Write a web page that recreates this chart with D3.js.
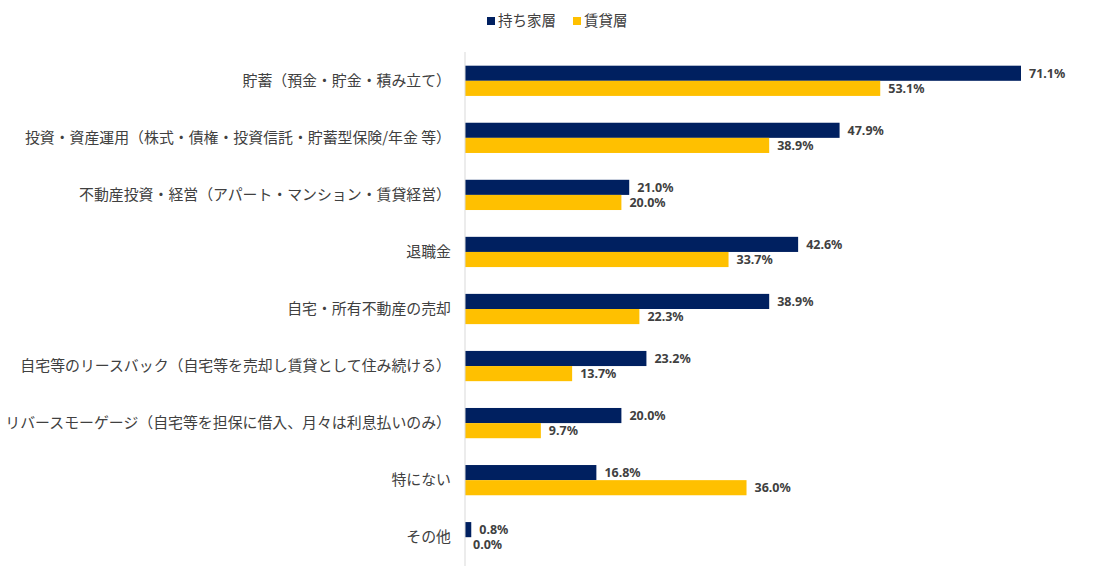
<!DOCTYPE html>
<html>
<head>
<meta charset="utf-8">
<script src="https://cdn.jsdelivr.net/npm/d3@7"></script>
<style>
body { margin: 0; background: #fff; }
text { font-family: "Noto Sans CJK JP", "Noto Sans", sans-serif; }
</style>
</head>
<body>
<svg id="chart"></svg>
<script>
var categories = ["貯蓄（預金・貯金・積み立て）",
    "投資・資産運用（株式・債権・投資信託・貯蓄型保険/年金 等）",
    "不動産投資・経営（アパート・マンション・賃貸経営）",
    "退職金",
    "自宅・所有不動産の売却",
    "自宅等のリースバック（自宅等を売却し賃貸として住み続ける）",
    "リバースモーゲージ（自宅等を担保に借入、月々は利息払いのみ）",
    "特にない",
    "その他"]
var seriesNames = ["持ち家層", "賃貸層"]
var owners = [71.1, 47.9, 21.0, 42.6, 38.9, 23.2, 20.0, 16.8, 0.8]
var renters = [53.1, 38.9, 20.0, 33.7, 22.3, 13.7, 9.7, 36.0, 0.0]
var colors = ["#002060", "#FFC000"]

var dimensions = {
    width: 1107,
    height: 583,
    margin: { top: 52, bottom: 17, left: 465, right: 20 }
}

var svg = d3.select("#chart")
    .attr("width", dimensions.width)
    .attr("height", dimensions.height)

var rows = categories.map(function (c, i) { return { cat: c, values: [owners[i], renters[i]] } })

var xScale = d3.scaleLinear()
    .domain([0, 71.1])
    .range([dimensions.margin.left, 1021])

var yScale = d3.scaleBand()
    .domain(categories)
    .range([dimensions.margin.top, dimensions.height - dimensions.margin.bottom])
    .paddingInner(0.47)
    .paddingOuter(0.24)

var inner = d3.scaleBand()
    .domain([0, 1])
    .range([0, yScale.bandwidth()])

// bars
var groups = svg.selectAll("g.row")
    .data(rows)
    .enter()
    .append("g")
    .attr("class", "row")
    .attr("transform", d => "translate(0," + yScale(d.cat) + ")")

groups.selectAll("rect")
    .data(d => d.values)
    .enter()
    .append("rect")
    .attr("x", xScale(0))
    .attr("y", (d, i) => inner(i))
    .attr("width", d => xScale(d) - xScale(0))
    .attr("height", inner.bandwidth())
    .attr("fill", (d, i) => colors[i])

groups.selectAll("text.val")
    .data(d => d.values)
    .enter()
    .append("text")
    .attr("class", "val")
    .attr("x", d => xScale(d) + 8)
    .attr("y", (d, i) => inner(i) + inner.bandwidth() / 2)
    .attr("dy", "0.36em")
    .attr("font-size", 12.5)
    .attr("font-weight", "bold")
    .attr("fill", "#404040")
    .style("font-family", '"Noto Sans", sans-serif')
    .text(d => d.toFixed(1) + "%")

// axis
var yAxis = svg.append("g")
    .attr("transform", "translate(" + xScale(0) + ",0)")
    .call(d3.axisLeft(yScale).tickSize(0).tickPadding(14))

yAxis.select(".domain")
    .attr("stroke", "#d9d9d9")
    .attr("d", "M0," + dimensions.margin.top + "V" + (dimensions.height - dimensions.margin.bottom))

yAxis.selectAll("text")
    .attr("font-size", 14.9)
    .attr("fill", "#404040")
    .style("font-family", '"Noto Sans CJK JP", sans-serif')

// legend
var legend = svg.append("g")
    .attr("transform", "translate(487,21)")

var lx = [0, 86]
var items = legend.selectAll("g")
    .data(seriesNames)
    .enter()
    .append("g")
    .attr("transform", (d, i) => "translate(" + lx[i] + ",0)")

items.append("rect")
    .attr("x", 0)
    .attr("y", -4)
    .attr("width", 8)
    .attr("height", 8)
    .attr("fill", (d, i) => colors[i])

items.append("text")
    .attr("x", 11)
    .attr("y", 0)
    .attr("dy", "0.36em")
    .attr("font-size", 14.5)
    .attr("fill", "#404040")
    .text(d => d)
</script>
</body>
</html>
